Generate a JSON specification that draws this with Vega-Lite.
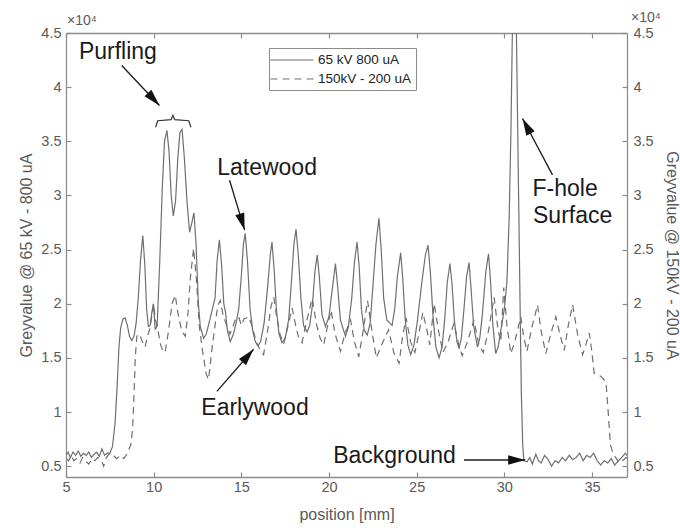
{
 "$schema": "https://vega.github.io/schema/vega-lite/v6.json",
 "width": 561,
 "height": 444,
 "autosize": {"type": "none"},
 "padding": {"left": 66, "top": 33, "right": 53, "bottom": 51},
 "background": "white",
 "config": {
  "view": {"stroke": null},
  "font": "Liberation Sans",
  "axis": {
   "domainColor": "#8c8c8c", "domainWidth": 1.3,
   "tickColor": "#8c8c8c", "tickSize": -5, "tickWidth": 1.2,
   "labelColor": "#5a5a5a", "labelFontSize": 14.5, "labelFont": "Liberation Sans",
   "titleColor": "#5a5a5a", "titleFontSize": 16, "titleFontWeight": "normal", "titleFont": "Liberation Sans",
   "grid": false, "labelFlush": false, "labelOverlap": false
  }
 },
 "datasets": {
  "profile": [
   {"series":"65 kV 800 uA","position":5.0,"grey":0.60},{"series":"65 kV 800 uA","position":5.12,"grey":0.63},{"series":"65 kV 800 uA","position":5.25,"grey":0.58},{"series":"65 kV 800 uA","position":5.4,"grey":0.63},{"series":"65 kV 800 uA","position":5.55,"grey":0.60},{"series":"65 kV 800 uA","position":5.7,"grey":0.64},{"series":"65 kV 800 uA","position":5.85,"grey":0.59},{"series":"65 kV 800 uA","position":6.0,"grey":0.62},{"series":"65 kV 800 uA","position":6.15,"grey":0.60},{"series":"65 kV 800 uA","position":6.3,"grey":0.63},{"series":"65 kV 800 uA","position":6.45,"grey":0.58},{"series":"65 kV 800 uA","position":6.6,"grey":0.61},{"series":"65 kV 800 uA","position":6.75,"grey":0.63},{"series":"65 kV 800 uA","position":6.9,"grey":0.59},{"series":"65 kV 800 uA","position":7.05,"grey":0.66},{"series":"65 kV 800 uA","position":7.2,"grey":0.60},{"series":"65 kV 800 uA","position":7.35,"grey":0.62},{"series":"65 kV 800 uA","position":7.5,"grey":0.62},{"series":"65 kV 800 uA","position":7.65,"grey":0.68},{"series":"65 kV 800 uA","position":7.8,"grey":0.90},{"series":"65 kV 800 uA","position":7.92,"grey":1.25},{"series":"65 kV 800 uA","position":8.02,"grey":1.60},{"series":"65 kV 800 uA","position":8.12,"grey":1.78},{"series":"65 kV 800 uA","position":8.25,"grey":1.86},{"series":"65 kV 800 uA","position":8.37,"grey":1.87},{"series":"65 kV 800 uA","position":8.5,"grey":1.80},{"series":"65 kV 800 uA","position":8.62,"grey":1.70},{"series":"65 kV 800 uA","position":8.75,"grey":1.66},{"series":"65 kV 800 uA","position":8.88,"grey":1.70},{"series":"65 kV 800 uA","position":9.0,"grey":1.82},{"series":"65 kV 800 uA","position":9.12,"grey":2.05},{"series":"65 kV 800 uA","position":9.25,"grey":2.40},{"series":"65 kV 800 uA","position":9.38,"grey":2.63},{"series":"65 kV 800 uA","position":9.5,"grey":2.35},{"series":"65 kV 800 uA","position":9.6,"grey":1.95},{"series":"65 kV 800 uA","position":9.7,"grey":1.79},{"series":"65 kV 800 uA","position":9.8,"grey":1.80},{"series":"65 kV 800 uA","position":9.9,"grey":1.92},{"series":"65 kV 800 uA","position":9.99,"grey":2.00},{"series":"65 kV 800 uA","position":10.09,"grey":1.76},{"series":"65 kV 800 uA","position":10.2,"grey":1.80},{"series":"65 kV 800 uA","position":10.35,"grey":2.40},{"series":"65 kV 800 uA","position":10.5,"grey":3.10},{"series":"65 kV 800 uA","position":10.62,"grey":3.50},{"series":"65 kV 800 uA","position":10.76,"grey":3.60},{"series":"65 kV 800 uA","position":10.88,"grey":3.40},{"series":"65 kV 800 uA","position":11.0,"grey":3.00},{"series":"65 kV 800 uA","position":11.12,"grey":2.81},{"series":"65 kV 800 uA","position":11.25,"grey":2.95},{"series":"65 kV 800 uA","position":11.38,"grey":3.35},{"series":"65 kV 800 uA","position":11.5,"grey":3.58},{"series":"65 kV 800 uA","position":11.62,"grey":3.61},{"series":"65 kV 800 uA","position":11.75,"grey":3.35},{"series":"65 kV 800 uA","position":11.9,"grey":2.95},{"series":"65 kV 800 uA","position":12.05,"grey":2.66},{"series":"65 kV 800 uA","position":12.18,"grey":2.75},{"series":"65 kV 800 uA","position":12.3,"grey":2.84},{"series":"65 kV 800 uA","position":12.42,"grey":2.55},{"series":"65 kV 800 uA","position":12.55,"grey":2.00},{"series":"65 kV 800 uA","position":12.66,"grey":1.79},{"series":"65 kV 800 uA","position":12.85,"grey":1.68},{"series":"65 kV 800 uA","position":13.0,"grey":1.72},{"series":"65 kV 800 uA","position":13.2,"grey":1.85},{"series":"65 kV 800 uA","position":13.35,"grey":1.95},{"series":"65 kV 800 uA","position":13.5,"grey":2.05},{"series":"65 kV 800 uA","position":13.62,"grey":2.40},{"series":"65 kV 800 uA","position":13.75,"grey":2.59},{"series":"65 kV 800 uA","position":13.88,"grey":2.35},{"series":"65 kV 800 uA","position":14.0,"grey":2.00},{"series":"65 kV 800 uA","position":14.1,"grey":1.92},{"series":"65 kV 800 uA","position":14.2,"grey":1.76},{"series":"65 kV 800 uA","position":14.37,"grey":1.65},{"series":"65 kV 800 uA","position":14.55,"grey":1.72},{"series":"65 kV 800 uA","position":14.7,"grey":1.82},{"series":"65 kV 800 uA","position":14.85,"grey":1.95},{"series":"65 kV 800 uA","position":15.0,"grey":2.25},{"series":"65 kV 800 uA","position":15.12,"grey":2.55},{"series":"65 kV 800 uA","position":15.22,"grey":2.65},{"series":"65 kV 800 uA","position":15.35,"grey":2.40},{"series":"65 kV 800 uA","position":15.5,"grey":1.95},{"series":"65 kV 800 uA","position":15.65,"grey":1.75},{"series":"65 kV 800 uA","position":15.8,"grey":1.65},{"series":"65 kV 800 uA","position":15.95,"grey":1.61},{"series":"65 kV 800 uA","position":16.1,"grey":1.65},{"series":"65 kV 800 uA","position":16.3,"grey":1.82},{"series":"65 kV 800 uA","position":16.5,"grey":2.15},{"series":"65 kV 800 uA","position":16.65,"grey":2.45},{"series":"65 kV 800 uA","position":16.75,"grey":2.57},{"series":"65 kV 800 uA","position":16.88,"grey":2.30},{"series":"65 kV 800 uA","position":17.0,"grey":1.95},{"series":"65 kV 800 uA","position":17.15,"grey":1.72},{"series":"65 kV 800 uA","position":17.32,"grey":1.64},{"series":"65 kV 800 uA","position":17.5,"grey":1.68},{"series":"65 kV 800 uA","position":17.7,"grey":1.85},{"series":"65 kV 800 uA","position":17.88,"grey":2.25},{"series":"65 kV 800 uA","position":18.0,"grey":2.55},{"series":"65 kV 800 uA","position":18.12,"grey":2.69},{"series":"65 kV 800 uA","position":18.25,"grey":2.45},{"series":"65 kV 800 uA","position":18.4,"grey":2.05},{"series":"65 kV 800 uA","position":18.55,"grey":1.80},{"series":"65 kV 800 uA","position":18.75,"grey":1.74},{"series":"65 kV 800 uA","position":18.9,"grey":1.80},{"series":"65 kV 800 uA","position":19.05,"grey":1.98},{"series":"65 kV 800 uA","position":19.2,"grey":2.30},{"series":"65 kV 800 uA","position":19.33,"grey":2.45},{"series":"65 kV 800 uA","position":19.45,"grey":2.25},{"series":"65 kV 800 uA","position":19.6,"grey":1.90},{"series":"65 kV 800 uA","position":19.8,"grey":1.79},{"series":"65 kV 800 uA","position":20.0,"grey":1.88},{"series":"65 kV 800 uA","position":20.2,"grey":2.15},{"series":"65 kV 800 uA","position":20.37,"grey":2.37},{"series":"65 kV 800 uA","position":20.5,"grey":2.15},{"series":"65 kV 800 uA","position":20.65,"grey":1.85},{"series":"65 kV 800 uA","position":20.94,"grey":1.70},{"series":"65 kV 800 uA","position":21.1,"grey":1.78},{"series":"65 kV 800 uA","position":21.3,"grey":2.05},{"series":"65 kV 800 uA","position":21.45,"grey":2.38},{"series":"65 kV 800 uA","position":21.6,"grey":2.57},{"series":"65 kV 800 uA","position":21.72,"grey":2.35},{"series":"65 kV 800 uA","position":21.85,"grey":1.95},{"series":"65 kV 800 uA","position":22.0,"grey":1.76},{"series":"65 kV 800 uA","position":22.18,"grey":1.71},{"series":"65 kV 800 uA","position":22.35,"grey":1.82},{"series":"65 kV 800 uA","position":22.5,"grey":2.15},{"series":"65 kV 800 uA","position":22.68,"grey":2.55},{"series":"65 kV 800 uA","position":22.85,"grey":2.79},{"series":"65 kV 800 uA","position":22.98,"grey":2.50},{"series":"65 kV 800 uA","position":23.12,"grey":2.05},{"series":"65 kV 800 uA","position":23.3,"grey":1.85},{"series":"65 kV 800 uA","position":23.6,"grey":1.80},{"series":"65 kV 800 uA","position":23.75,"grey":1.95},{"series":"65 kV 800 uA","position":23.9,"grey":2.25},{"series":"65 kV 800 uA","position":24.09,"grey":2.47},{"series":"65 kV 800 uA","position":24.2,"grey":2.25},{"series":"65 kV 800 uA","position":24.35,"grey":1.85},{"series":"65 kV 800 uA","position":24.5,"grey":1.62},{"series":"65 kV 800 uA","position":24.66,"grey":1.53},{"series":"65 kV 800 uA","position":24.85,"grey":1.62},{"series":"65 kV 800 uA","position":25.05,"grey":1.85},{"series":"65 kV 800 uA","position":25.3,"grey":2.20},{"series":"65 kV 800 uA","position":25.5,"grey":2.45},{"series":"65 kV 800 uA","position":25.65,"grey":2.54},{"series":"65 kV 800 uA","position":25.78,"grey":2.30},{"series":"65 kV 800 uA","position":25.95,"grey":1.85},{"series":"65 kV 800 uA","position":26.1,"grey":1.60},{"series":"65 kV 800 uA","position":26.28,"grey":1.50},{"series":"65 kV 800 uA","position":26.45,"grey":1.60},{"series":"65 kV 800 uA","position":26.6,"grey":1.85},{"series":"65 kV 800 uA","position":26.75,"grey":2.20},{"series":"65 kV 800 uA","position":26.9,"grey":2.37},{"series":"65 kV 800 uA","position":27.02,"grey":2.18},{"series":"65 kV 800 uA","position":27.15,"grey":1.85},{"series":"65 kV 800 uA","position":27.3,"grey":1.65},{"series":"65 kV 800 uA","position":27.42,"grey":1.59},{"series":"65 kV 800 uA","position":27.55,"grey":1.68},{"series":"65 kV 800 uA","position":27.7,"grey":1.95},{"series":"65 kV 800 uA","position":27.85,"grey":2.25},{"series":"65 kV 800 uA","position":27.99,"grey":2.38},{"series":"65 kV 800 uA","position":28.1,"grey":2.15},{"series":"65 kV 800 uA","position":28.25,"grey":1.80},{"series":"65 kV 800 uA","position":28.47,"grey":1.60},{"series":"65 kV 800 uA","position":28.6,"grey":1.68},{"series":"65 kV 800 uA","position":28.75,"grey":1.90},{"series":"65 kV 800 uA","position":28.95,"grey":2.30},{"series":"65 kV 800 uA","position":29.1,"grey":2.46},{"series":"65 kV 800 uA","position":29.22,"grey":2.20},{"series":"65 kV 800 uA","position":29.35,"grey":1.80},{"series":"65 kV 800 uA","position":29.51,"grey":1.54},{"series":"65 kV 800 uA","position":29.65,"grey":1.60},{"series":"65 kV 800 uA","position":29.8,"grey":1.75},{"series":"65 kV 800 uA","position":30.0,"grey":1.95},{"series":"65 kV 800 uA","position":30.15,"grey":2.20},{"series":"65 kV 800 uA","position":30.28,"grey":2.80},{"series":"65 kV 800 uA","position":30.38,"grey":3.60},{"series":"65 kV 800 uA","position":30.46,"grey":4.50},{"series":"65 kV 800 uA","position":30.55,"grey":5.60},{"series":"65 kV 800 uA","position":30.62,"grey":6.00},{"series":"65 kV 800 uA","position":30.7,"grey":4.40},{"series":"65 kV 800 uA","position":30.8,"grey":3.20},{"series":"65 kV 800 uA","position":30.9,"grey":2.00},{"series":"65 kV 800 uA","position":30.97,"grey":1.20},{"series":"65 kV 800 uA","position":31.05,"grey":0.70},{"series":"65 kV 800 uA","position":31.12,"grey":0.55},{"series":"65 kV 800 uA","position":31.3,"grey":0.54},{"series":"65 kV 800 uA","position":31.45,"grey":0.58},{"series":"65 kV 800 uA","position":31.6,"grey":0.52},{"series":"65 kV 800 uA","position":31.8,"grey":0.61},{"series":"65 kV 800 uA","position":31.95,"grey":0.55},{"series":"65 kV 800 uA","position":32.1,"grey":0.53},{"series":"65 kV 800 uA","position":32.3,"grey":0.60},{"series":"65 kV 800 uA","position":32.5,"grey":0.56},{"series":"65 kV 800 uA","position":32.7,"grey":0.50},{"series":"65 kV 800 uA","position":32.9,"grey":0.55},{"series":"65 kV 800 uA","position":33.1,"grey":0.53},{"series":"65 kV 800 uA","position":33.3,"grey":0.58},{"series":"65 kV 800 uA","position":33.5,"grey":0.55},{"series":"65 kV 800 uA","position":33.7,"grey":0.60},{"series":"65 kV 800 uA","position":33.9,"grey":0.56},{"series":"65 kV 800 uA","position":34.1,"grey":0.58},{"series":"65 kV 800 uA","position":34.3,"grey":0.62},{"series":"65 kV 800 uA","position":34.5,"grey":0.55},{"series":"65 kV 800 uA","position":34.7,"grey":0.60},{"series":"65 kV 800 uA","position":34.9,"grey":0.58},{"series":"65 kV 800 uA","position":35.1,"grey":0.62},{"series":"65 kV 800 uA","position":35.3,"grey":0.55},{"series":"65 kV 800 uA","position":35.5,"grey":0.51},{"series":"65 kV 800 uA","position":35.7,"grey":0.55},{"series":"65 kV 800 uA","position":35.9,"grey":0.53},{"series":"65 kV 800 uA","position":36.1,"grey":0.57},{"series":"65 kV 800 uA","position":36.3,"grey":0.51},{"series":"65 kV 800 uA","position":36.5,"grey":0.55},{"series":"65 kV 800 uA","position":36.7,"grey":0.58},{"series":"65 kV 800 uA","position":36.9,"grey":0.62},{"series":"65 kV 800 uA","position":37.0,"grey":0.60},
   {"series":"150kV - 200 uA","position":5.0,"grey":0.57},{"series":"150kV - 200 uA","position":5.15,"grey":0.55},{"series":"150kV - 200 uA","position":5.3,"grey":0.60},{"series":"150kV - 200 uA","position":5.45,"grey":0.55},{"series":"150kV - 200 uA","position":5.6,"grey":0.57},{"series":"150kV - 200 uA","position":5.8,"grey":0.53},{"series":"150kV - 200 uA","position":5.95,"grey":0.58},{"series":"150kV - 200 uA","position":6.1,"grey":0.55},{"series":"150kV - 200 uA","position":6.3,"grey":0.52},{"series":"150kV - 200 uA","position":6.5,"grey":0.57},{"series":"150kV - 200 uA","position":6.65,"grey":0.55},{"series":"150kV - 200 uA","position":6.8,"grey":0.58},{"series":"150kV - 200 uA","position":7.0,"grey":0.56},{"series":"150kV - 200 uA","position":7.15,"grey":0.50},{"series":"150kV - 200 uA","position":7.3,"grey":0.58},{"series":"150kV - 200 uA","position":7.5,"grey":0.62},{"series":"150kV - 200 uA","position":7.7,"grey":0.60},{"series":"150kV - 200 uA","position":7.9,"grey":0.57},{"series":"150kV - 200 uA","position":8.1,"grey":0.60},{"series":"150kV - 200 uA","position":8.3,"grey":0.57},{"series":"150kV - 200 uA","position":8.5,"grey":0.62},{"series":"150kV - 200 uA","position":8.7,"grey":0.70},{"series":"150kV - 200 uA","position":8.8,"grey":0.85},{"series":"150kV - 200 uA","position":8.88,"grey":1.15},{"series":"150kV - 200 uA","position":8.95,"grey":1.50},{"series":"150kV - 200 uA","position":9.04,"grey":1.70},{"series":"150kV - 200 uA","position":9.2,"grey":1.72},{"series":"150kV - 200 uA","position":9.35,"grey":1.65},{"series":"150kV - 200 uA","position":9.51,"grey":1.60},{"series":"150kV - 200 uA","position":9.65,"grey":1.70},{"series":"150kV - 200 uA","position":9.8,"grey":1.78},{"series":"150kV - 200 uA","position":9.99,"grey":2.00},{"series":"150kV - 200 uA","position":10.1,"grey":1.85},{"series":"150kV - 200 uA","position":10.2,"grey":1.79},{"series":"150kV - 200 uA","position":10.4,"grey":1.62},{"series":"150kV - 200 uA","position":10.55,"grey":1.55},{"series":"150kV - 200 uA","position":10.66,"grey":1.56},{"series":"150kV - 200 uA","position":10.85,"grey":1.75},{"series":"150kV - 200 uA","position":11.05,"grey":2.00},{"series":"150kV - 200 uA","position":11.23,"grey":2.08},{"series":"150kV - 200 uA","position":11.4,"grey":1.90},{"series":"150kV - 200 uA","position":11.6,"grey":1.75},{"series":"150kV - 200 uA","position":11.8,"grey":1.70},{"series":"150kV - 200 uA","position":11.95,"grey":1.90},{"series":"150kV - 200 uA","position":12.1,"grey":2.25},{"series":"150kV - 200 uA","position":12.28,"grey":2.51},{"series":"150kV - 200 uA","position":12.45,"grey":2.20},{"series":"150kV - 200 uA","position":12.6,"grey":1.80},{"series":"150kV - 200 uA","position":12.8,"grey":1.55},{"series":"150kV - 200 uA","position":13.0,"grey":1.35},{"series":"150kV - 200 uA","position":13.13,"grey":1.30},{"series":"150kV - 200 uA","position":13.3,"grey":1.55},{"series":"150kV - 200 uA","position":13.5,"grey":1.80},{"series":"150kV - 200 uA","position":13.65,"grey":1.98},{"series":"150kV - 200 uA","position":13.8,"grey":2.03},{"series":"150kV - 200 uA","position":13.95,"grey":1.90},{"series":"150kV - 200 uA","position":14.16,"grey":1.80},{"series":"150kV - 200 uA","position":14.35,"grey":1.72},{"series":"150kV - 200 uA","position":14.5,"grey":1.78},{"series":"150kV - 200 uA","position":14.65,"grey":1.85},{"series":"150kV - 200 uA","position":14.85,"grey":1.88},{"series":"150kV - 200 uA","position":15.0,"grey":1.80},{"series":"150kV - 200 uA","position":15.15,"grey":1.86},{"series":"150kV - 200 uA","position":15.42,"grey":1.88},{"series":"150kV - 200 uA","position":15.6,"grey":1.80},{"series":"150kV - 200 uA","position":15.85,"grey":1.65},{"series":"150kV - 200 uA","position":16.05,"grey":1.58},{"series":"150kV - 200 uA","position":16.27,"grey":1.53},{"series":"150kV - 200 uA","position":16.5,"grey":1.75},{"series":"150kV - 200 uA","position":16.7,"grey":1.98},{"series":"150kV - 200 uA","position":16.85,"grey":2.06},{"series":"150kV - 200 uA","position":17.0,"grey":1.90},{"series":"150kV - 200 uA","position":17.2,"grey":1.72},{"series":"150kV - 200 uA","position":17.42,"grey":1.63},{"series":"150kV - 200 uA","position":17.6,"grey":1.75},{"series":"150kV - 200 uA","position":17.9,"grey":1.96},{"series":"150kV - 200 uA","position":18.1,"grey":1.80},{"series":"150kV - 200 uA","position":18.25,"grey":1.70},{"series":"150kV - 200 uA","position":18.46,"grey":1.64},{"series":"150kV - 200 uA","position":18.7,"grey":1.82},{"series":"150kV - 200 uA","position":19.04,"grey":2.05},{"series":"150kV - 200 uA","position":19.3,"grey":1.80},{"series":"150kV - 200 uA","position":19.5,"grey":1.68},{"series":"150kV - 200 uA","position":19.7,"grey":1.62},{"series":"150kV - 200 uA","position":19.9,"grey":1.78},{"series":"150kV - 200 uA","position":20.12,"grey":1.94},{"series":"150kV - 200 uA","position":20.35,"grey":1.72},{"series":"150kV - 200 uA","position":20.66,"grey":1.56},{"series":"150kV - 200 uA","position":20.9,"grey":1.72},{"series":"150kV - 200 uA","position":21.23,"grey":1.85},{"series":"150kV - 200 uA","position":21.45,"grey":1.65},{"series":"150kV - 200 uA","position":21.7,"grey":1.51},{"series":"150kV - 200 uA","position":21.95,"grey":1.75},{"series":"150kV - 200 uA","position":22.2,"grey":2.03},{"series":"150kV - 200 uA","position":22.45,"grey":1.75},{"series":"150kV - 200 uA","position":22.7,"grey":1.50},{"series":"150kV - 200 uA","position":23.0,"grey":1.62},{"series":"150kV - 200 uA","position":23.4,"grey":1.76},{"series":"150kV - 200 uA","position":23.7,"grey":1.55},{"series":"150kV - 200 uA","position":24.0,"grey":1.45},{"series":"150kV - 200 uA","position":24.2,"grey":1.70},{"series":"150kV - 200 uA","position":24.4,"grey":1.87},{"series":"150kV - 200 uA","position":24.65,"grey":1.65},{"series":"150kV - 200 uA","position":24.9,"grey":1.55},{"series":"150kV - 200 uA","position":25.1,"grey":1.70},{"series":"150kV - 200 uA","position":25.35,"grey":1.92},{"series":"150kV - 200 uA","position":25.6,"grey":1.75},{"series":"150kV - 200 uA","position":25.75,"grey":1.62},{"series":"150kV - 200 uA","position":26.0,"grey":2.00},{"series":"150kV - 200 uA","position":26.25,"grey":1.75},{"series":"150kV - 200 uA","position":26.5,"grey":1.55},{"series":"150kV - 200 uA","position":26.8,"grey":1.65},{"series":"150kV - 200 uA","position":27.13,"grey":1.82},{"series":"150kV - 200 uA","position":27.4,"grey":1.62},{"series":"150kV - 200 uA","position":27.6,"grey":1.52},{"series":"150kV - 200 uA","position":27.9,"grey":1.65},{"series":"150kV - 200 uA","position":28.27,"grey":1.85},{"series":"150kV - 200 uA","position":28.55,"grey":1.62},{"series":"150kV - 200 uA","position":28.8,"grey":1.55},{"series":"150kV - 200 uA","position":29.1,"grey":1.75},{"series":"150kV - 200 uA","position":29.42,"grey":2.06},{"series":"150kV - 200 uA","position":29.65,"grey":1.75},{"series":"150kV - 200 uA","position":29.8,"grey":1.65},{"series":"150kV - 200 uA","position":29.97,"grey":2.15},{"series":"150kV - 200 uA","position":30.15,"grey":1.80},{"series":"150kV - 200 uA","position":30.37,"grey":1.54},{"series":"150kV - 200 uA","position":30.6,"grey":1.65},{"series":"150kV - 200 uA","position":30.94,"grey":1.88},{"series":"150kV - 200 uA","position":31.1,"grey":1.70},{"series":"150kV - 200 uA","position":31.29,"grey":1.56},{"series":"150kV - 200 uA","position":31.6,"grey":1.80},{"series":"150kV - 200 uA","position":31.9,"grey":1.99},{"series":"150kV - 200 uA","position":32.1,"grey":1.75},{"series":"150kV - 200 uA","position":32.37,"grey":1.54},{"series":"150kV - 200 uA","position":32.65,"grey":1.72},{"series":"150kV - 200 uA","position":32.94,"grey":1.88},{"series":"150kV - 200 uA","position":33.2,"grey":1.70},{"series":"150kV - 200 uA","position":33.42,"grey":1.57},{"series":"150kV - 200 uA","position":33.65,"grey":1.80},{"series":"150kV - 200 uA","position":33.9,"grey":1.99},{"series":"150kV - 200 uA","position":34.2,"grey":1.70},{"series":"150kV - 200 uA","position":34.47,"grey":1.53},{"series":"150kV - 200 uA","position":34.65,"grey":1.62},{"series":"150kV - 200 uA","position":34.85,"grey":1.73},{"series":"150kV - 200 uA","position":35.0,"grey":1.55},{"series":"150kV - 200 uA","position":35.12,"grey":1.36},{"series":"150kV - 200 uA","position":35.5,"grey":1.33},{"series":"150kV - 200 uA","position":35.8,"grey":1.28},{"series":"150kV - 200 uA","position":35.95,"grey":0.95},{"series":"150kV - 200 uA","position":36.05,"grey":0.70},{"series":"150kV - 200 uA","position":36.2,"grey":0.62},{"series":"150kV - 200 uA","position":36.4,"grey":0.57},{"series":"150kV - 200 uA","position":36.56,"grey":0.53},{"series":"150kV - 200 uA","position":36.75,"grey":0.55},{"series":"150kV - 200 uA","position":36.94,"grey":0.58},{"series":"150kV - 200 uA","position":37.0,"grey":0.57}
  ],
  "notes": [
   {"label":"Purfling","position":7.96,"grey":4.257},
   {"label":"Latewood","position":16.47,"grey":3.19},
   {"label":"F-hole","position":33.47,"grey":2.995},
   {"label":"Surface","position":33.9,"grey":2.748},
   {"label":"Earlywood","position":15.78,"grey":0.972},
   {"label":"Background","position":23.74,"grey":0.527}
  ],
  "arrows": [
   {"name":"Purfling","position":8.18,"grey":4.20,"tipPosition":10.33,"tipGrey":3.83},
   {"name":"Latewood","position":14.33,"grey":3.14,"tipPosition":15.19,"tipGrey":2.68},
   {"name":"F-hole","position":32.75,"grey":3.19,"tipPosition":31.04,"tipGrey":3.71},
   {"name":"Earlywood","position":13.61,"grey":1.19,"tipPosition":15.70,"tipGrey":1.58},
   {"name":"Background","position":27.7,"grey":0.557,"tipPosition":31.19,"tipGrey":0.557}
  ],
  "brace": [
   {"position":10.11,"grey":3.63},
   {"position":10.23,"grey":3.69},
   {"position":11.0,"grey":3.70},
   {"position":11.1,"grey":3.74},
   {"position":11.2,"grey":3.70},
   {"position":12.0,"grey":3.69},
   {"position":12.13,"grey":3.63}
  ],
  "exponent": [
   {"label":"×10⁴","position":5.06,"grey":4.575},
   {"label":"×10⁴","position":37.23,"grey":4.605}
  ]
 },
 "layer": [
  {
   "data": {"name": "profile"},
   "mark": {"type": "line", "clip": true, "color": "#6f6f6f", "strokeWidth": 1.2},
   "encoding": {
    "x": {"field": "position", "type": "quantitative", "scale": {"domain": [5, 37], "nice": false, "zero": false},
          "axis": {"orient": "bottom", "values": [5,10,15,20,25,30,35], "title": "position [mm]", "labelPadding": 8, "titlePadding": 13}},
    "y": {"field": "grey", "type": "quantitative", "scale": {"domain": [0.4, 4.5], "nice": false, "zero": false},
          "axis": {"orient": "left", "values": [0.5,1,1.5,2,2.5,3,3.5,4,4.5], "format": "~g", "title": "Greyvalue @ 65 kV - 800 uA", "labelPadding": 10, "titlePadding": 6}},
    "strokeDash": {"field": "series", "type": "nominal",
      "scale": {"domain": ["65 kV 800 uA", "150kV - 200 uA"], "range": [[1, 0], [7, 5]]},
      "legend": {"orient": "none", "legendX": 203, "legendY": 15, "title": null,
                 "symbolType": "M-3.07,0L3.07,0", "symbolSize": 196, "symbolOffset": 11,
                 "symbolStrokeColor": "#6f6f6f", "symbolStrokeWidth": 1.2, "labelFontSize": 13.5, "labelColor": "#222222",
                 "labelFont": "Liberation Sans", "labelOffset": 18, "strokeColor": "#8c8c8c", "fillColor": "white",
                 "padding": 4, "rowPadding": 4}}
   }
  },
  {
   "data": {"name": "exponent"},
   "mark": {"type": "text", "align": "left", "baseline": "alphabetic", "fontSize": 14, "color": "#5a5a5a"},
   "encoding": {
    "x": {"field": "position", "type": "quantitative", "scale": {"domain": [5, 37], "nice": false, "zero": false},
          "axis": {"orient": "top", "values": [5,10,15,20,25,30,35], "labels": false, "title": null}},
    "y": {"field": "grey", "type": "quantitative", "scale": {"domain": [0.4, 4.5], "nice": false, "zero": false},
          "axis": {"orient": "right", "values": [0.5,1,1.5,2,2.5,3,3.5,4,4.5], "format": "~g", "title": "Greyvalue @ 150kV - 200 uA", "labelPadding": 11, "titlePadding": 10}},
    "text": {"field": "label"}
   }
  },
  {
   "data": {"name": "brace"},
   "mark": {"type": "line", "color": "#333333", "strokeWidth": 1.2},
   "encoding": {
    "x": {"field": "position", "type": "quantitative", "scale": {"domain": [5, 37], "nice": false, "zero": false}, "axis": null},
    "y": {"field": "grey", "type": "quantitative", "scale": {"domain": [0.4, 4.5], "nice": false, "zero": false}, "axis": null}
   }
  },
  {
   "data": {"name": "arrows"},
   "mark": {"type": "rule", "color": "#1a1a1a", "strokeWidth": 1.3},
   "encoding": {
    "x": {"field": "position", "type": "quantitative", "scale": {"domain": [5, 37], "nice": false, "zero": false}, "axis": null},
    "y": {"field": "grey", "type": "quantitative", "scale": {"domain": [0.4, 4.5], "nice": false, "zero": false}, "axis": null},
    "x2": {"field": "tipPosition"},
    "y2": {"field": "tipGrey"}
   }
  },
  {
   "data": {"name": "arrows"},
   "transform": [{"filter": "datum.name === 'Purfling'"}],
   "mark": {"type": "point", "shape": "M0,0L-0.55,2L0.55,2Z", "filled": true, "color": "#111111", "opacity": 1, "size": 289, "angle": 137.5, "strokeWidth": 0},
   "encoding": {
    "x": {"field": "tipPosition", "type": "quantitative", "scale": {"domain": [5, 37], "nice": false, "zero": false}, "axis": null},
    "y": {"field": "tipGrey", "type": "quantitative", "scale": {"domain": [0.4, 4.5], "nice": false, "zero": false}, "axis": null}
   }
  },
  {
   "data": {"name": "arrows"},
   "transform": [{"filter": "datum.name === 'Latewood'"}],
   "mark": {"type": "point", "shape": "M0,0L-0.55,2L0.55,2Z", "filled": true, "color": "#111111", "opacity": 1, "size": 289, "angle": 163.3, "strokeWidth": 0},
   "encoding": {
    "x": {"field": "tipPosition", "type": "quantitative", "scale": {"domain": [5, 37], "nice": false, "zero": false}, "axis": null},
    "y": {"field": "tipGrey", "type": "quantitative", "scale": {"domain": [0.4, 4.5], "nice": false, "zero": false}, "axis": null}
   }
  },
  {
   "data": {"name": "arrows"},
   "transform": [{"filter": "datum.name === 'F-hole'"}],
   "mark": {"type": "point", "shape": "M0,0L-0.55,2L0.55,2Z", "filled": true, "color": "#111111", "opacity": 1, "size": 289, "angle": 332, "strokeWidth": 0},
   "encoding": {
    "x": {"field": "tipPosition", "type": "quantitative", "scale": {"domain": [5, 37], "nice": false, "zero": false}, "axis": null},
    "y": {"field": "tipGrey", "type": "quantitative", "scale": {"domain": [0.4, 4.5], "nice": false, "zero": false}, "axis": null}
   }
  },
  {
   "data": {"name": "arrows"},
   "transform": [{"filter": "datum.name === 'Earlywood'"}],
   "mark": {"type": "point", "shape": "M0,0L-0.55,2L0.55,2Z", "filled": true, "color": "#111111", "opacity": 1, "size": 289, "angle": 40.8, "strokeWidth": 0},
   "encoding": {
    "x": {"field": "tipPosition", "type": "quantitative", "scale": {"domain": [5, 37], "nice": false, "zero": false}, "axis": null},
    "y": {"field": "tipGrey", "type": "quantitative", "scale": {"domain": [0.4, 4.5], "nice": false, "zero": false}, "axis": null}
   }
  },
  {
   "data": {"name": "arrows"},
   "transform": [{"filter": "datum.name === 'Background'"}],
   "mark": {"type": "point", "shape": "M0,0L-0.55,2L0.55,2Z", "filled": true, "color": "#111111", "opacity": 1, "size": 289, "angle": 90, "strokeWidth": 0},
   "encoding": {
    "x": {"field": "tipPosition", "type": "quantitative", "scale": {"domain": [5, 37], "nice": false, "zero": false}, "axis": null},
    "y": {"field": "tipGrey", "type": "quantitative", "scale": {"domain": [0.4, 4.5], "nice": false, "zero": false}, "axis": null}
   }
  },
  {
   "data": {"name": "notes"},
   "mark": {"type": "text", "align": "center", "baseline": "alphabetic", "fontSize": 23, "color": "#1a1a1a", "font": "Liberation Sans"},
   "encoding": {
    "x": {"field": "position", "type": "quantitative", "scale": {"domain": [5, 37], "nice": false, "zero": false}, "axis": null},
    "y": {"field": "grey", "type": "quantitative", "scale": {"domain": [0.4, 4.5], "nice": false, "zero": false}, "axis": null},
    "text": {"field": "label"}
   }
  }
 ],
 "resolve": {"axis": {"x": "independent", "y": "independent"}}
}
